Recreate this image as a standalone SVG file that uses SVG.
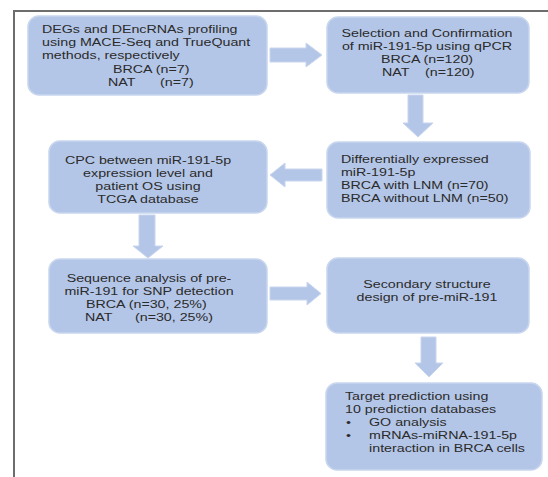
<svg xmlns="http://www.w3.org/2000/svg" width="548" height="477" viewBox="0 0 548 477">
<style>
.box{fill:#b4c6e7;stroke:#c8d6ee;stroke-width:1.5}
.arr{fill:#b4c6e7;stroke:#c8d6ee;stroke-width:1}
text{font-family:"Liberation Sans",Arial,sans-serif;font-size:11.5px;fill:#2b2b2b}
.m{text-anchor:middle}
.frame{stroke:#6d6d6d;stroke-width:2;fill:none}
</style>
<rect width="548" height="477" fill="#ffffff"/>
<path class="frame" d="M14,477 V11 H548"/>
<g id="connectors">
<polygon class="arr" points="270,48 306,48 306,43 322,55 306,67 306,62 270,62"/>
<polygon class="arr" points="408,95 423,95 423,123 433,123 418,137 403,123 408,123"/>
<polygon class="arr" points="322,169 285,169 285,163 270,175 285,187 285,181 322,181"/>
<polygon class="arr" points="139,215 155,215 155,246 163,246 148,258 133,246 139,246"/>
<polygon class="arr" points="270,287 307,287 307,282 321,293.5 307,305 307,300 270,300"/>
<polygon class="arr" points="421,337 436,337 436,363 443,363 429,377 415,363 421,363"/>
</g>
<g id="n1">
<rect class="box" x="28" y="16" width="239" height="79" rx="11"/>
<g transform="translate(42,0) scale(1.24,1)">
<text x="0" y="33.3">DEGs and DEncRNAs profiling</text>
<text x="0" y="46.4">using MACE-Seq and TrueQuant</text>
<text x="0" y="59.5">methods, respectively</text>
<text x="57.3" y="72.6">BRCA (n=7)</text>
<text x="53.2" y="85.7">NAT</text>
<text x="95.2" y="85.7">(n=7)</text>
</g>
</g>
<g id="n2">
<rect class="box" x="327" y="17" width="202" height="76" rx="11"/>
<g transform="translate(427,0) scale(1.24,1)">
<text class="m" x="0" y="37.3">Selection and Confirmation</text>
<text class="m" x="0" y="50.2">of miR-191-5p using qPCR</text>
<text class="m" x="0" y="63.1">BRCA (n=120)</text>
</g>
<g transform="translate(382,0) scale(1.24,1)">
<text x="0" y="76">NAT</text>
<text x="34.7" y="76">(n=120)</text>
</g>
</g>
<g id="n3">
<rect class="box" x="327" y="142" width="203" height="76" rx="11"/>
<g transform="translate(341,0) scale(1.24,1)">
<text x="0" y="162.7">Differentially expressed</text>
<text x="0" y="175.9">miR-191-5p</text>
<text x="0" y="189.1">BRCA with LNM (n=70)</text>
<text x="0" y="202.3">BRCA without LNM (n=50)</text>
</g>
</g>
<g id="n4">
<rect class="box" x="49" y="141" width="218" height="72" rx="11"/>
<g transform="translate(148,0) scale(1.24,1)">
<text class="m" x="0" y="164.3">CPC between miR-191-5p</text>
<text class="m" x="0" y="177.3">expression level and</text>
<text class="m" x="0" y="190.3">patient OS using</text>
<text class="m" x="0" y="203.3">TCGA database</text>
</g>
</g>
<g id="n5">
<rect class="box" x="49" y="259" width="218" height="74" rx="11"/>
<g transform="translate(149,0) scale(1.24,1)">
<text class="m" x="0" y="281.7">Sequence analysis of pre-</text>
<text class="m" x="0" y="294.8">miR-191 for SNP detection</text>
</g>
<g transform="translate(85,0) scale(1.24,1)">
<text x="0.8" y="307.9">BRCA (n=30, 25%)</text>
<text x="0" y="321">NAT</text>
<text x="40.3" y="321">(n=30, 25%)</text>
</g>
</g>
<g id="n6">
<rect class="box" x="327" y="258" width="202" height="75" rx="11"/>
<g transform="translate(427,0) scale(1.24,1)">
<text class="m" x="0" y="288.3">Secondary structure</text>
<text class="m" x="0" y="301">design of pre-miR-191</text>
</g>
</g>
<g id="n7">
<rect class="box" x="326" y="383" width="216" height="87" rx="11"/>
<g transform="translate(345,0) scale(1.24,1)">
<text x="0" y="400.5">Target prediction using</text>
<text x="0" y="413.3">10 prediction databases</text>
<text x="0.8" y="426.1">•</text>
<text x="19.4" y="426.1">GO analysis</text>
<text x="0.8" y="438.9">•</text>
<text x="19.4" y="438.9">mRNAs-miRNA-191-5p</text>
<text x="19.4" y="451.7">interaction in BRCA cells</text>
</g>
</g>
</svg>
